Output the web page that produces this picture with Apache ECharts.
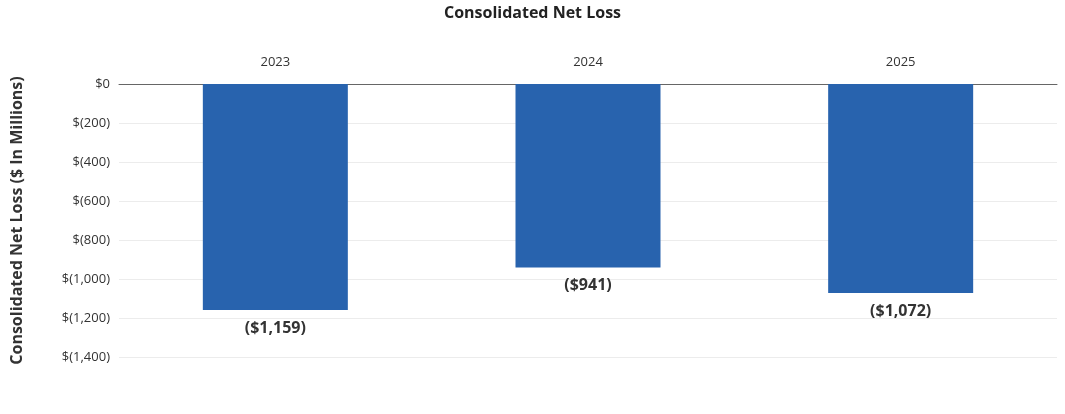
<!DOCTYPE html>
<html>
<head>
<meta charset="utf-8">
<script src="https://cdn.jsdelivr.net/npm/echarts@6/dist/echarts.min.js"></script>
<style>
  html, body { margin:0; padding:0; background:#fff; }
  #chart { width:1065px; height:414px; }
</style>
</head>
<body>
<div id="chart"></div>
<script>
// data
var years = ['2023', '2024', '2025'];
var netLoss = [-1159, -941, -1072];
var yTicks = [0, -200, -400, -600, -800, -1000, -1200, -1400];

function money(v) {
  var a = Math.abs(v).toLocaleString('en-US');
  return v < 0 ? '$(' + a + ')' : '$' + a;
}

var chart = echarts.init(document.getElementById('chart'));
chart.setOption({
  backgroundColor: '#fff',
  textStyle: { fontFamily: 'Open Sans' },
  title: {
    text: 'Consolidated Net Loss',
    left: 'center',
    top: 0,
    textStyle: { fontSize: 16, fontWeight: 'bold', color: '#222', fontFamily: 'Open Sans' }
  },
  grid: { left: 119, right: 8, top: 84, bottom: 57 },
  xAxis: {
    type: 'category',
    data: years,
    position: 'top',
    axisLine: { onZero: true, lineStyle: { color: '#666', width: 1 } },
    axisTick: { show: false },
    axisLabel: { color: '#333', fontSize: 13, margin: 15 }
  },
  yAxis: {
    type: 'value',
    min: yTicks[yTicks.length - 1],
    max: yTicks[0],
    interval: 200,
    name: 'Consolidated Net Loss ($ In Millions)',
    nameLocation: 'middle',
    nameGap: 94,
    nameTextStyle: { fontSize: 16, fontWeight: 'bold', color: '#333' },
    axisLine: { show: false },
    axisTick: { show: false },
    axisLabel: { color: '#333', fontSize: 13, margin: 9, formatter: money },
    splitLine: { lineStyle: { color: '#ececec' } }
  },
  series: [{
    type: 'bar',
    data: netLoss,
    barWidth: 145,
    itemStyle: { color: '#2863ae' },
    label: {
      show: true,
      position: 'bottom',
      distance: 10,
      fontSize: 16,
      fontWeight: 'bold',
      color: '#333',
      formatter: function (p) { return '($' + Math.abs(p.value).toLocaleString('en-US') + ')'; }
    }
  }]
});
</script>
</body>
</html>
